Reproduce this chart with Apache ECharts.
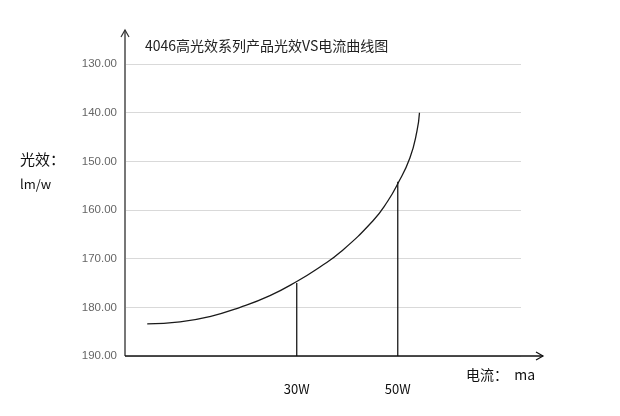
<!DOCTYPE html>
<html><head><meta charset="utf-8">
<script src="https://cdn.jsdelivr.net/npm/echarts@6/dist/echarts.min.js"></script>
<style>html,body{margin:0;padding:0;background:#fff}#c{width:620px;height:416px}</style>
</head><body><div id="c"></div>
<script>
// ---- data ----
const curveX = [0.4, 6.9, 12.8, 18.8, 24.7, 30, 34.6, 38.6, 45.1, 48.0, 50, 52.4, 53.8, 54.3];
const curveY = [183.4, 183.0, 181.9, 180.0, 177.6, 174.7, 171.7, 168.7, 162.2, 158.2, 154.6, 149.3, 143.8, 140.0];
const markW = [30, 50];
const markY = [175.0, 154.2];
const markLabels = ['30W', '50W'];
const yTicks = [130, 140, 150, 160, 170, 180, 190];
const titleText = '4046高光效系列产品光效VS电流曲线图';

// ---- layout ----
const G = {left: 125, right: 99, top: 64, bottom: 60};
const W = 620, H = 416;
const FONT = '"Noto Sans CJK SC", "Noto Sans", sans-serif';

const chart = echarts.init(document.getElementById('c'), null, {renderer: 'canvas'});

const series = [{
  type: 'line', smooth: 0.5, showSymbol: false,
  data: curveX.map((x, i) => [x, curveY[i]]),
  lineStyle: {color: '#1a1a1a', width: 1.3}, z: 5
}];
markW.forEach((w, i) => {
  series.push({
    type: 'line', showSymbol: false,
    data: [[w, 190], [w, markY[i]]],
    lineStyle: {color: '#1a1a1a', width: 1.3}, z: 5
  });
});

const axisBottom = H - G.bottom;
const xEnd = 543, yTop = 30;
chart.setOption({
  animation: false,
  backgroundColor: '#fff',
  title: {text: titleText, left: 140, top: 34,
    textStyle: {fontFamily: FONT, fontSize: 14, fontWeight: 'normal', color: '#222'}},
  grid: {left: G.left, right: G.right, top: G.top, bottom: G.bottom},
  xAxis: {
    type: 'value', min: -4, max: 74.4,
    axisLine: {show: false}, axisTick: {show: false}, splitLine: {show: false},
    axisLabel: {customValues: markW, formatter: v => markLabels[markW.indexOf(v)] || '',
      margin: 27, color: '#111', fontSize: 13, fontFamily: FONT}
  },
  yAxis: {
    type: 'value', inverse: true, min: 130, max: 190, interval: 10,
    axisLine: {show: false}, axisTick: {show: false},
    splitLine: {lineStyle: {color: '#d9d9d9', width: 1}},
    axisLabel: {formatter: v => v.toFixed(2), color: '#666', fontSize: 11.5, margin: 8, fontFamily: 'Liberation Sans, Arial, sans-serif'}
  },
  series: series,
  graphic: [
    // y axis with arrow
    {type: 'line', shape: {x1: G.left, y1: axisBottom, x2: G.left, y2: yTop}, style: {stroke: '#777', lineWidth: 2}, z: 10},
    {type: 'polyline', shape: {points: [[G.left - 4, yTop + 7], [G.left, yTop], [G.left + 4, yTop + 7]]}, style: {stroke: '#333', lineWidth: 1.2, fill: null}, z: 10},
    // x axis with arrow
    {type: 'line', shape: {x1: G.left, y1: axisBottom, x2: xEnd, y2: axisBottom}, style: {stroke: '#111', lineWidth: 1.5}, z: 10},
    {type: 'polyline', shape: {points: [[xEnd - 7, axisBottom - 4], [xEnd, axisBottom], [xEnd - 7, axisBottom + 4]]}, style: {stroke: '#111', lineWidth: 1.2, fill: null}, z: 10},
    // axis names
    {type: 'text', left: 20, top: 152, style: {text: '光效：', fontFamily: FONT, fontSize: 15, fill: '#111'}},
    {type: 'text', left: 20, top: 178, style: {text: 'lm/w', fontFamily: FONT, fontSize: 13, fill: '#111'}},
    {type: 'text', left: 466, top: 368, style: {text: '电流：  ma', fontFamily: FONT, fontSize: 14, fill: '#111'}}
  ]
});
</script>
</body></html>
